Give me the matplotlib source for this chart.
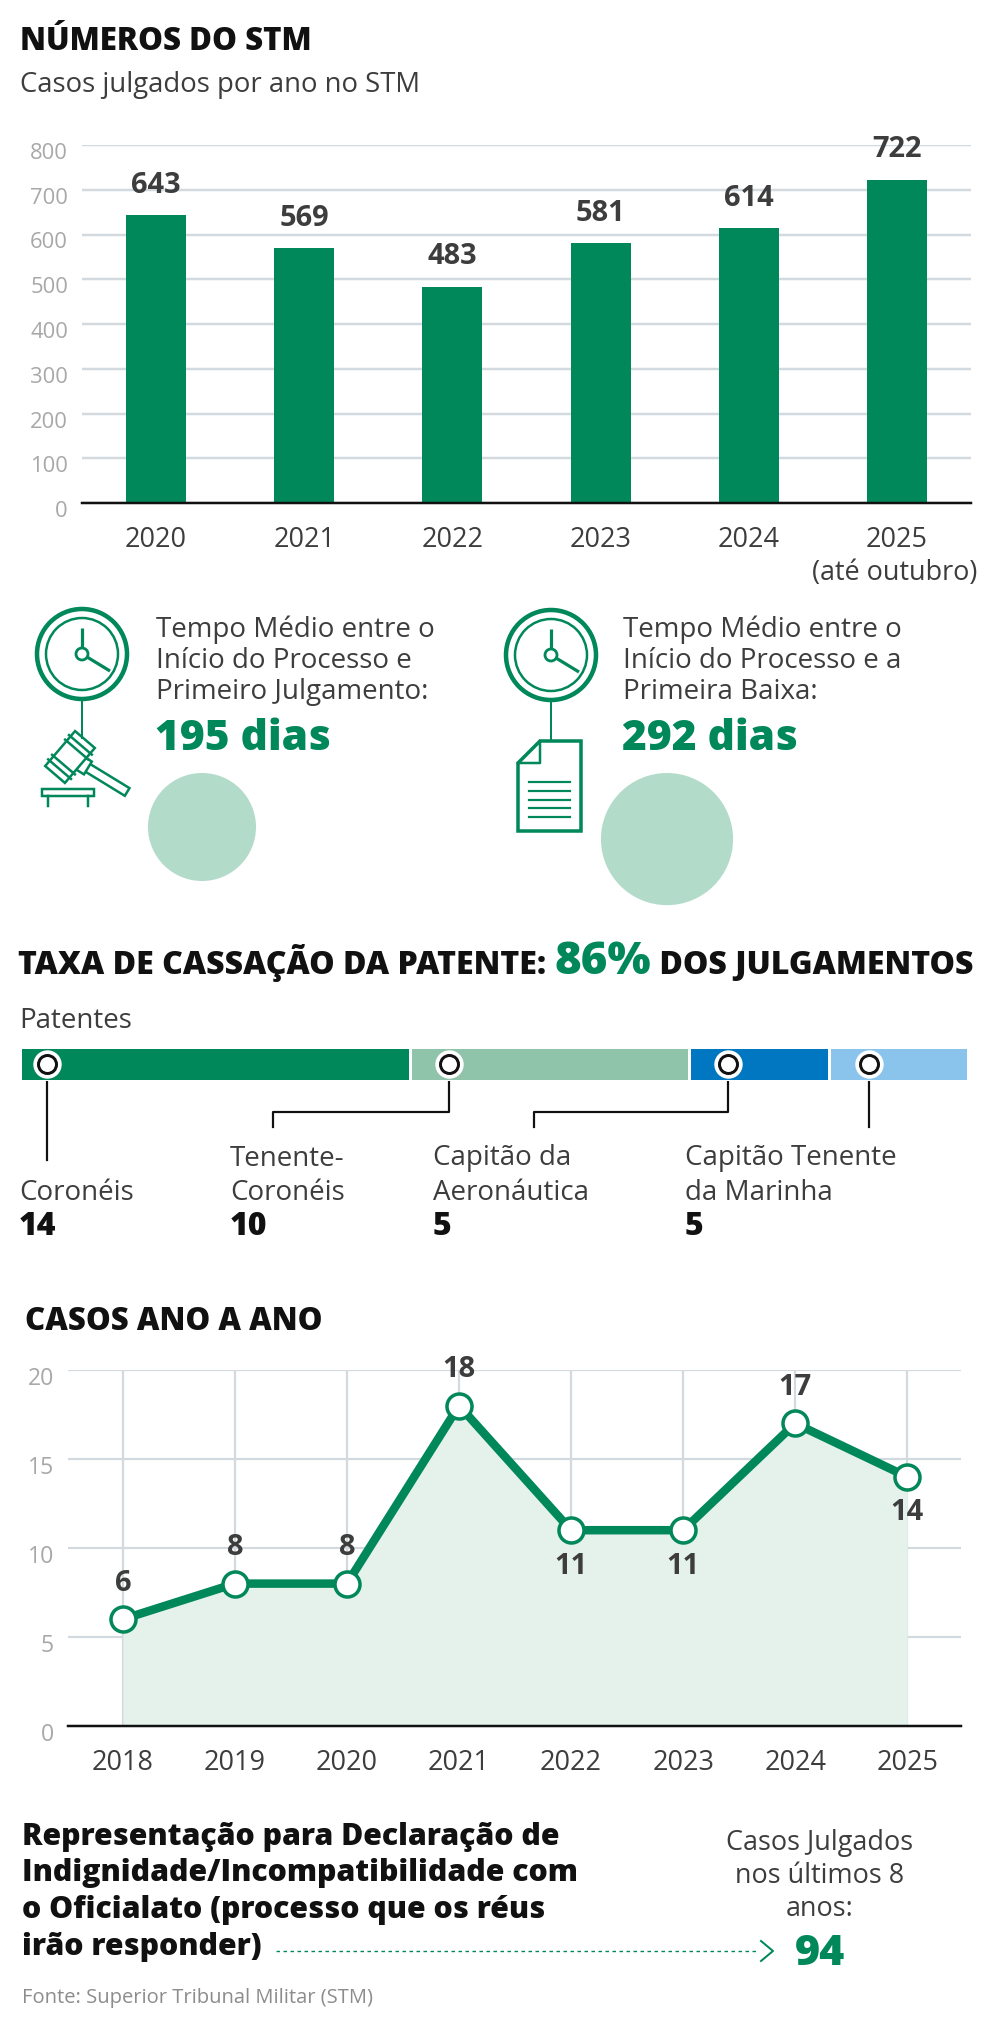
import numpy as np
import matplotlib
matplotlib.use("Agg")
import matplotlib.pyplot as plt
from matplotlib.patches import Circle, Polygon, Rectangle
from matplotlib.transforms import ScaledTranslation

plt.rcParams['font.family'] = ['Open Sans', 'DejaVu Sans']

W, H = 984, 2028

# ---------------- dados ----------------
anos_stm = ["2020", "2021", "2022", "2023", "2024", "2025"]
julgados_stm = [643, 569, 483, 581, 614, 722]

tempo_textos = [["Tempo Médio entre o", "Início do Processo e", "Primeiro Julgamento:"],
                ["Tempo Médio entre o", "Início do Processo e a", "Primeira Baixa:"]]
tempo_dias = [195, 292]

taxa_cassacao = 86
patentes = [["Coronéis"], ["Tenente-", "Coronéis"], ["Capitão da", "Aeronáutica"],
            ["Capitão Tenente", "da Marinha"]]
patentes_qtd = [14, 10, 5, 5]

anos_casos = [2018, 2019, 2020, 2021, 2022, 2023, 2024, 2025]
casos = [6, 8, 8, 18, 11, 11, 17, 14]
rotulo_embaixo = [False, False, False, False, True, True, False, True]

texto_repr = ["Representação para Declaração de", "Indignidade/Incompatibilidade com",
              "o Oficialato (processo que os réus", "irão responder)"]
texto_total = ["Casos Julgados", "nos últimos 8", "anos:"]
total_casos = 94
fonte = "Fonte: Superior Tribunal Militar (STM)"

# cores
VERDE = '#00875a'
VERDE_CLARO = '#b3dbca'
CORES_PAT = ['#00875a', '#8fc4aa', '#0077c0', '#8ac4ec']
PREENCH = '#e5f2ec'
GRADE = '#d3dadf'
CINZA = '#a8a8a8'
ESCURO = '#3d3d3d'
PRETO = '#111111'


def pt(v):
    # pixels -> pontos (dpi 100)
    return v * 0.72


fig = plt.figure(figsize=(W / 100, H / 100), dpi=100)
bg = fig.add_axes([0, 0, 1, 1])
bg.set_xlim(0, W)
bg.set_ylim(H, 0)
bg.axis('off')
desce = ScaledTranslation(0, -6 / 100, fig.dpi_scale_trans)


def eixo(x0, y0, x1, y1):
    a = fig.add_axes([x0 / W, 1 - y1 / H, (x1 - x0) / W, (y1 - y0) / H])
    a.set_facecolor('none')
    return a


def txt(x, y, s, size, color=ESCURO, weight='normal', ha='left', va='baseline'):
    return bg.text(x, y, s, fontsize=pt(size), color=color, fontweight=weight, ha=ha, va=va)


fig.canvas.draw()
rend = fig.canvas.get_renderer()


def largura(t):
    return t.get_window_extent(renderer=rend).width


def ajustar(t, alvo):
    t.set_fontsize(t.get_fontsize() * alvo / largura(t))


# ---------------- NÚMEROS DO STM ----------------
ajustar(txt(20, 50, "NÚMEROS DO STM", 30, PRETO, 'heavy'), 292)
ajustar(txt(20, 92, "Casos julgados por ano no STM", 27), 400)

ax1 = eixo(82, 145, 971, 503)
xb = np.arange(len(anos_stm))
ax1.bar(xb, julgados_stm, width=0.405, color=VERDE, zorder=3)
ax1.set_xlim(-0.499, 5.499)
ax1.set_ylim(0, 800)
ax1.set_yticks(range(0, 801, 100))
ax1.yaxis.grid(True, color=GRADE, lw=pt(2.5))
ax1.set_axisbelow(True)
for s in ['top', 'right', 'left']:
    ax1.spines[s].set_visible(False)
ax1.spines['bottom'].set_color(PRETO)
ax1.spines['bottom'].set_linewidth(pt(2.5))
ax1.spines['bottom'].set_zorder(4)
ax1.tick_params(axis='y', length=0, pad=pt(14), labelsize=pt(22), labelcolor=CINZA)
ax1.tick_params(axis='x', length=0, pad=pt(23), labelsize=pt(27), labelcolor=ESCURO)
ax1.set_xticks(xb, anos_stm)
for lb in ax1.get_yticklabels():
    lb.set_transform(lb.get_transform() + desce)
for xi, v in zip(xb, julgados_stm):
    ax1.annotate(str(v), (xi, v), xytext=(0, pt(30)), textcoords='offset points',
                 ha='center', va='center', fontsize=pt(29), fontweight='bold', color=ESCURO)
txt(977, 580, "(até outubro)", 27, ha='right')


# ---------------- ícones e tempos ----------------
def relogio(cx, cy, haste):
    bg.add_patch(Circle((cx, cy), 45, fill=False, ec=VERDE, lw=pt(4.5)))
    bg.add_patch(Circle((cx, cy), 36, fill=False, ec=VERDE, lw=pt(2.5)))
    bg.add_patch(Circle((cx, cy), 6, fill=False, ec=VERDE, lw=pt(2.8)))
    bg.plot([cx, cx], [cy - 6, cy - 26], color=VERDE, lw=pt(3.2), solid_capstyle='butt')
    bg.plot([cx + 5, cx + 28], [cy + 3, cy + 17], color=VERDE, lw=pt(3.2), solid_capstyle='butt')
    bg.plot([cx, cx], [cy + 47, haste], color=VERDE, lw=pt(2))


def retangulo(c, u, L, w):
    u = np.array(u, float) / np.hypot(*u)
    n = np.array([-u[1], u[0]])
    c = np.array(c, float)
    return [c + u * L / 2 + n * w / 2, c - u * L / 2 + n * w / 2,
            c - u * L / 2 - n * w / 2, c + u * L / 2 - n * w / 2]


def martelo():
    c = np.array([70.0, 757.0])
    u = np.array([0.65, -0.76])
    u = u / np.hypot(*u)
    n = np.array([-u[1], u[0]])
    h = np.array([0.85, 0.52])
    h = h / np.hypot(*h)
    # cabo
    bg.add_patch(Polygon(retangulo(c + h * 42, h, 50, 9), closed=True, fill=False,
                         ec=VERDE, lw=pt(2.5)))
    bg.add_patch(Polygon(retangulo(c + h * 16, h, 10, 15), closed=True, fc='white',
                         ec=VERDE, lw=pt(2.5)))
    # cabeça
    bg.add_patch(Polygon(retangulo(c, u, 46, 26), closed=True, fc='white', ec=VERDE, lw=pt(2.5)))
    for t in (-16, -10, 10, 16):
        p = c + u * t
        bg.plot([p[0] - n[0] * 15, p[0] + n[0] * 15], [p[1] - n[1] * 15, p[1] + n[1] * 15],
                color=VERDE, lw=pt(2.5))
    # base
    bg.add_patch(Rectangle((42, 789), 52, 7, fill=False, ec=VERDE, lw=pt(2.5)))
    bg.plot([48, 48], [796, 806], color=VERDE, lw=pt(2.5))
    bg.plot([88, 88], [796, 806], color=VERDE, lw=pt(2.5))


def documento():
    x0, x1, y0, y1, d = 518, 581, 741, 831, 22
    bg.add_patch(Polygon([(x0 + d, y0), (x1, y0), (x1, y1), (x0, y1), (x0, y0 + d)],
                         closed=True, fill=False, ec=VERDE, lw=pt(3.5), joinstyle='miter'))
    bg.plot([x0 + d, x0 + d, x0], [y0, y0 + d, y0 + d], color=VERDE, lw=pt(2.5))
    for yl in np.linspace(782, 817, 5):
        bg.plot([529, 570], [yl, yl], color=VERDE, lw=pt(2.2))


relogio(82, 654, 738)
martelo()
relogio(551, 655, 741)
documento()

tempo_x = [156, 623]
bolha_x = [202, 667]
k_bolha = 54 / np.sqrt(195)
for i in range(2):
    for j, linha in enumerate(tempo_textos[i]):
        txt(tempo_x[i], 637 + 31 * j, linha, 27.8)
    txt(tempo_x[i] - 1, 750, f"{tempo_dias[i]} dias", 42.5, VERDE, 'heavy')
    r = k_bolha * np.sqrt(tempo_dias[i])
    bg.add_patch(Circle((bolha_x[i], 773 + r), r, color=VERDE_CLARO, lw=0))

# ---------------- taxa de cassação ----------------
partes = [("TAXA DE CASSAÇÃO DA PATENTE: ", PRETO, 1.0),
          (f"{taxa_cassacao}%", VERDE, 1.42),
          (" DOS JULGAMENTOS", PRETO, 1.0)]
tt = [txt(0, 974, p, 30 * f, c, 'heavy') for p, c, f in partes]
escala = 954 / sum(largura(t) for t in tt)
xc = 18
for t in tt:
    t.set_fontsize(t.get_fontsize() * escala)
    t.set_x(xc)
    xc += largura(t)

txt(19, 1028, "Patentes", 27.8)

ax2 = eixo(20, 1047, 968, 1081)
inicio = np.concatenate([[0], np.cumsum(patentes_qtd)[:-1]])
ax2.barh(0, patentes_qtd, left=inicio, height=1, color=CORES_PAT, edgecolor='white', lw=pt(3))
ax2.set_xlim(0, sum(patentes_qtd))
ax2.set_ylim(-0.5, 0.5)
ax2.axis('off')
pos_marc = inicio + np.array([0.98, 1.4, 1.4, 1.45])
ax2.plot(pos_marc, np.zeros(4), 'o', ms=pt(27), mfc='white', mec='white', zorder=4, clip_on=False)
ax2.plot(pos_marc, np.zeros(4), 'o', ms=pt(18), mfc='white', mec=PRETO, mew=pt(3), zorder=5,
         clip_on=False)

marc_px = [bg.transData.inverted().transform(ax2.transData.transform((p, 0)))
           for p in pos_marc]
rot_x = [19, 230, 433, 685]
desce_x = [None, 273, 534, None]
for i, (mx, my) in enumerate(marc_px):
    if desce_x[i] is None:
        fim = 1160 if i == 0 else 1127
        bg.plot([mx, mx], [my + 11, fim], color=PRETO, lw=pt(2.2))
    else:
        bg.plot([mx, mx, desce_x[i], desce_x[i]], [my + 11, 1112, 1112, 1127],
                color=PRETO, lw=pt(2.2))
    linhas = patentes[i]
    for j, linha in enumerate(linhas):
        txt(rot_x[i], 1200 - 34.5 * (len(linhas) - 1 - j), linha, 27.8)
    txt(rot_x[i], 1235, str(patentes_qtd[i]), 32, PRETO, 'heavy')

# ---------------- casos ano a ano ----------------
ajustar(txt(25, 1330, "CASOS ANO A ANO", 30, PRETO, 'heavy'), 297)

ax3 = eixo(68, 1370, 961, 1726)
ax3.fill_between(anos_casos, casos, color=PREENCH, lw=0, zorder=1)
ax3.plot(anos_casos, casos, color=VERDE, lw=pt(8.5), zorder=3)
ax3.plot(anos_casos, casos, 'o', ms=pt(25), mfc='white', mec=VERDE, mew=pt(3.5), zorder=4,
         clip_on=False)
ax3.set_xlim(2017.51, 2025.48)
ax3.set_ylim(0, 20)
ax3.set_xticks(anos_casos, [str(a) for a in anos_casos])
ax3.set_yticks(range(0, 21, 5))
ax3.grid(True, color=GRADE, lw=pt(2.2))
ax3.set_axisbelow(True)
for s in ['top', 'right', 'left']:
    ax3.spines[s].set_visible(False)
ax3.spines['bottom'].set_color(PRETO)
ax3.spines['bottom'].set_linewidth(pt(2.5))
ax3.spines['bottom'].set_zorder(5)
ax3.tick_params(axis='y', length=0, pad=pt(14), labelsize=pt(23), labelcolor=CINZA)
ax3.tick_params(axis='x', length=0, pad=pt(23), labelsize=pt(27), labelcolor=ESCURO)
for lb in ax3.get_yticklabels():
    lb.set_transform(lb.get_transform() + desce)
for a, v, baixo in zip(anos_casos, casos, rotulo_embaixo):
    ax3.annotate(str(v), (a, v), xytext=(0, pt(-36 if baixo else 36)), textcoords='offset points',
                 ha='center', va='center', fontsize=pt(29), fontweight='bold', color=ESCURO,
                 zorder=6)

# ---------------- rodapé ----------------
linhas_repr = [txt(22, 1845 + 36.5 * j, l, 30, PRETO, 'heavy') for j, l in enumerate(texto_repr)]
esc = 555 / largura(linhas_repr[1])
for t in linhas_repr:
    t.set_fontsize(t.get_fontsize() * esc)
x_ini = 22 + largura(linhas_repr[-1]) + 14
bg.plot([x_ini, 757], [1951, 1951], color=VERDE, lw=pt(1.4), ls=(0, (2.5, 2.5)))
bg.plot([761, 773, 761], [1941, 1951, 1961], color=VERDE, lw=pt(2))

for j, l in enumerate(texto_total):
    txt(820, 1850 + 33 * j, l, 27, ha='center')
txt(820, 1965, str(total_casos), 43, VERDE, 'heavy', ha='center')

ajustar(txt(22, 2003, fonte, 22, '#8c8c8c'), 352)

fig.savefig("out.png", dpi=100)
